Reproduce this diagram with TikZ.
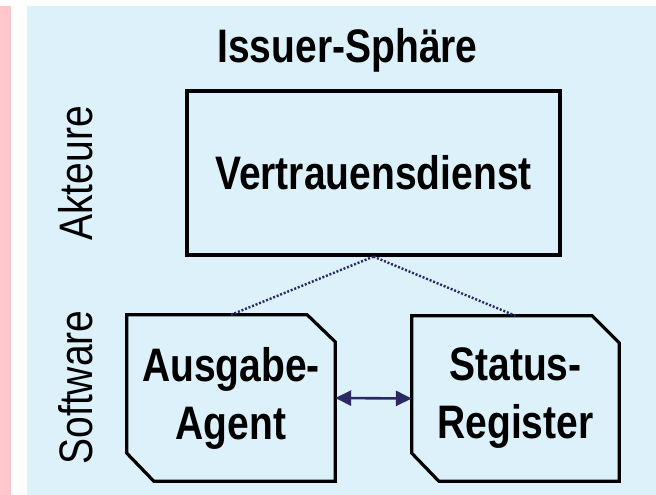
\documentclass[tikz,border=0pt]{standalone}
\usepackage{fontspec}
\setmainfont{Liberation Sans}[FakeStretch=0.83]
\usetikzlibrary{arrows.meta}
\definecolor{bgblue}{RGB}{220,241,250}
\definecolor{bgpink}{RGB}{255,199,204}
\definecolor{navy}{RGB}{43,40,100}
\tikzset{
  bigtext/.style={font=\fontsize{47}{58}\selectfont\bfseries, align=center, text=black},
  sidetext/.style={font=\fontsize{47}{57}\selectfont, rotate=90, anchor=base, text=black},
  actorbox/.style={draw=black, line width=3.2pt, rectangle, inner sep=0pt},
  softbox/.style={rectangle, inner sep=0pt},
  chamfer/.style={draw=black, line width=3.2pt, line join=miter},
  dotlink/.style={draw=navy, line width=2.4pt, dash pattern=on 2pt off 1.8pt},
  bilink/.style={draw=navy, line width=2.6pt, {Triangle[length=16pt,width=15pt]}-{Triangle[length=16pt,width=15pt]}}
}
\begin{document}
\begin{tikzpicture}[x=1pt,y=-1pt]
\useasboundingbox (0,0) rectangle (656,495);
\fill[bgpink] (0,6) rectangle (11,495);
\fill[bgblue] (27,6) rectangle (656,495);
\node[bigtext, anchor=base] (head) at (347.5,63) {Issuer-Sphäre};
\node[sidetext] (akt) at (92,173.5) {Akteure};
\node[sidetext] (soft) at (92,387.5) {Software};
\node[actorbox, bigtext, minimum width=373pt, minimum height=164pt] (vd) at (373.5,173) {Vertrauensdienst};
\node[softbox, bigtext, minimum width=208pt, minimum height=166pt] (ag) at (231,398) {Ausgabe-\\Agent};
\node[softbox, bigtext, minimum width=207pt, minimum height=165pt] (sr) at (515.5,398.5) {Status-\\Register};
\draw[chamfer] (ag.north west) -- ([xshift=-28pt]ag.north east) -- ([yshift=-27pt]ag.north east)
  -- (ag.south east) -- ([xshift=27pt]ag.south west) -- ([yshift=28pt]ag.south west) -- cycle;
\draw[chamfer] (sr.north west) -- ([xshift=-27pt]sr.north east) -- ([yshift=-27pt]sr.north east)
  -- (sr.south east) -- ([xshift=27pt]sr.south west) -- ([yshift=28pt]sr.south west) -- cycle;
\draw[dotlink] (vd.south) -- (ag.north);
\draw[dotlink] (vd.south) -- (sr.north);
\draw[bilink] (ag.east) -- (sr.west);
\end{tikzpicture}
\end{document}
